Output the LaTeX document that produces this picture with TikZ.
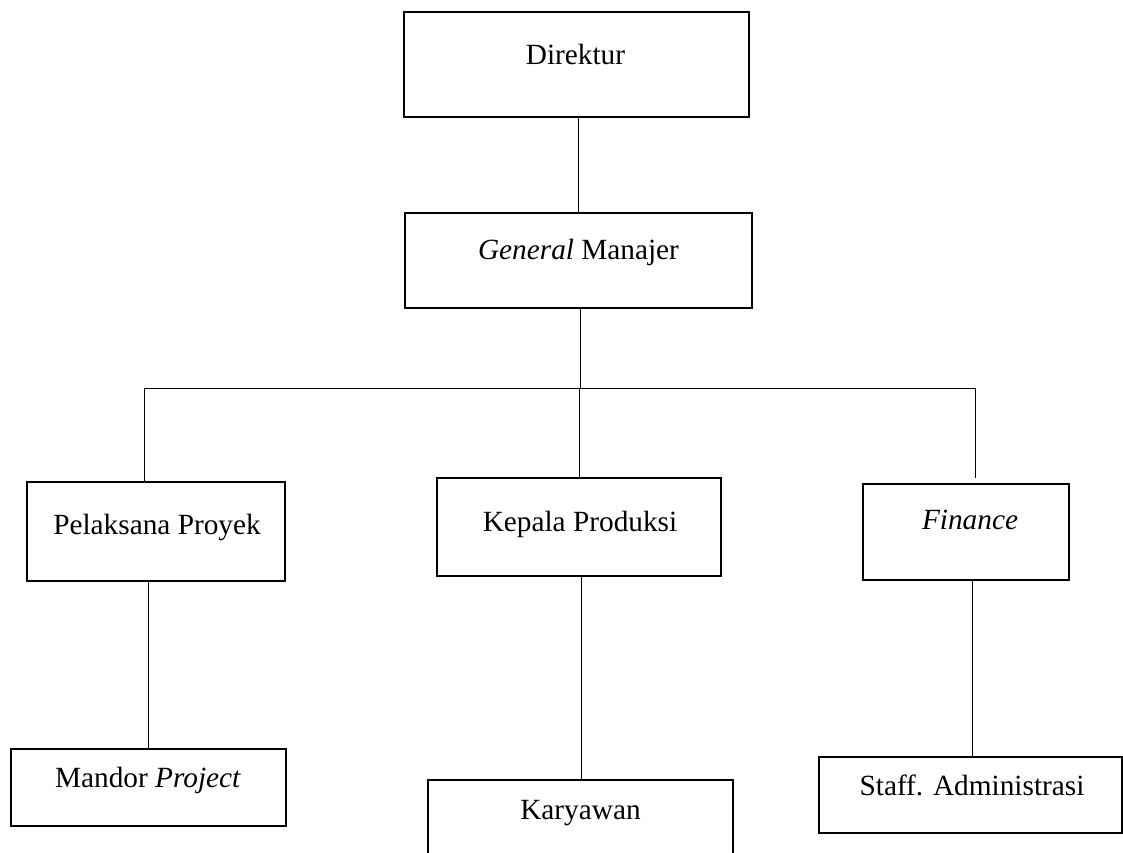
\documentclass[tikz,border=0pt]{standalone}
\usepackage{fontspec}
\setmainfont{Liberation Serif}
\usetikzlibrary{calc}
\begin{document}
\begin{tikzpicture}[x=1pt,y=-1pt,
  box/.style={draw, line width=2pt, inner sep=0pt, outer sep=0pt, fill=white},
  conn/.style={line width=1pt},
  lbl/.style={anchor=base, inner sep=0pt, font=\fontsize{29.3}{35}\selectfont}]
\useasboundingbox (0,0) rectangle (1123,852);
\clip (0,0) rectangle (1123,852);
% boxes
\node[box, minimum width=345pt, minimum height=105pt] (dir) at (576,64.5) {};
\node[box, minimum width=347pt, minimum height=95pt] (gm) at (578.5,260.5) {};
\node[box, minimum width=258pt, minimum height=99pt] (pel) at (156,531.5) {};
\node[box, minimum width=284pt, minimum height=98pt] (kep) at (579,527) {};
\node[box, minimum width=206pt, minimum height=96pt] (fin) at (966,532) {};
\node[box, minimum width=275pt, minimum height=77pt] (man) at (148.5,787.5) {};
\node[box, minimum width=305pt, minimum height=100pt] (kar) at (580.5,830) {};
\node[box, minimum width=303pt, minimum height=76pt] (sta) at (970.5,795) {};
% labels
\node[lbl] (dirT) at (575.5,64) {Direktur};
\node[lbl] (gmT) at (578.5,259) {\textit{General} Manajer};
\node[lbl] (pelT) at (157,534) {Pelaksana Proyek};
\node[lbl] (kepT) at (580,531) {Kepala Produksi};
\node[lbl] (finT) at (970,529) {\textit{Finance}};
\node[lbl] (manT) at (148,787) {Mandor \textit{Project}};
\node[lbl] (karT) at (580.5,819) {Karyawan};
\node[lbl] (staT) at (972,795) {Staff. Administrasi};
% guide coordinates
\coordinate (xa) at (578,0);
\coordinate (xb) at (580,388);
\coordinate (bl) at (144,388);
\coordinate (bm) at (579,388);
\coordinate (br) at (975,388);
\coordinate (finTop) at (975,478);
\coordinate (xm) at (148,0);
\coordinate (xk) at (581,0);
\coordinate (xs) at (972,0);
% connectors
\draw[conn] (dir.south -| xa) -- (gm.north -| xa);
\draw[conn] (gm.south -| xb) -- (xb);
\draw[conn] (bl) -- (br);
\draw[conn] (bl) -- (pel.north -| bl);
\draw[conn] (bm) -- (kep.north -| bm);
\draw[conn] (br) -- (finTop);
\draw[conn] (pel.south -| xm) -- (man.north -| xm);
\draw[conn] (kep.south -| xk) -- (kar.north -| xk);
\draw[conn] (fin.south -| xs) -- (sta.north -| xs);
\end{tikzpicture}
\end{document}
